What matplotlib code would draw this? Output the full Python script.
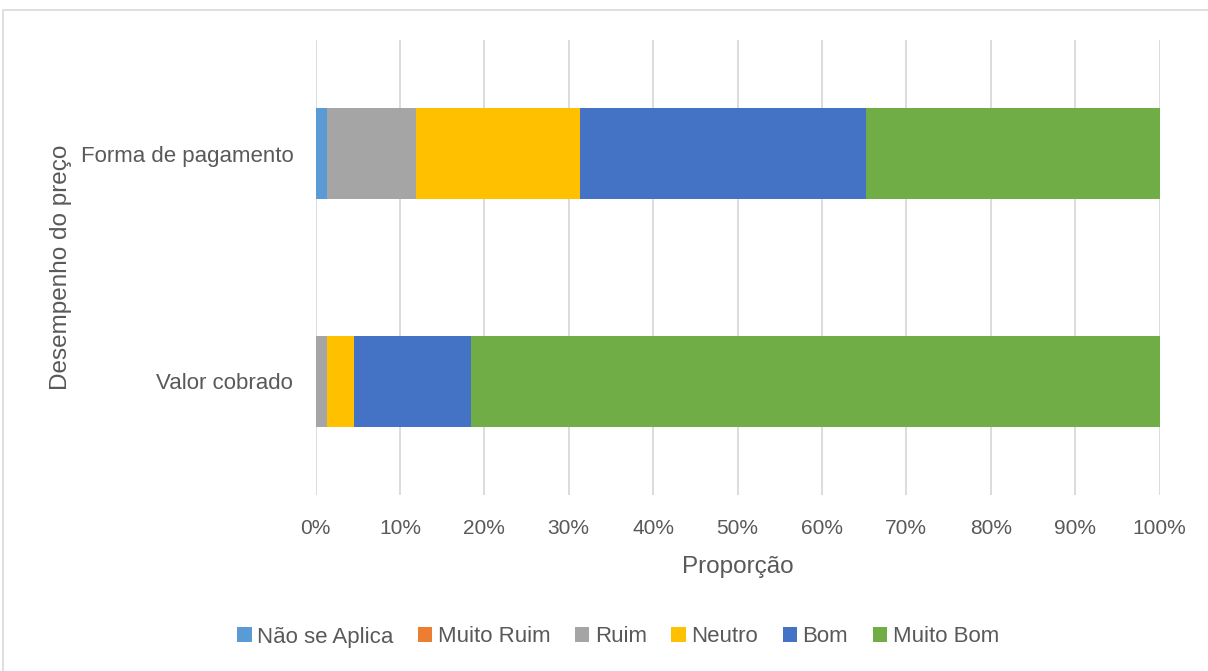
import matplotlib.pyplot as plt
from matplotlib.patches import Rectangle
import numpy as np

plt.rcParams['font.family'] = ['Liberation Sans', 'DejaVu Sans']

categories = ['Valor cobrado', 'Forma de pagamento']
series = ['Não se Aplica', 'Muito Ruim', 'Ruim', 'Neutro', 'Bom', 'Muito Bom']
# proportion (%) per category, in the order of `categories`
nao_se_aplica = [0.0, 1.35]
muito_ruim = [0.0, 0.0]
ruim = [1.35, 10.55]
neutro = [3.2, 19.4]
bom = [13.85, 33.9]
muito_bom = [81.6, 34.8]
values = [nao_se_aplica, muito_ruim, ruim, neutro, bom, muito_bom]
colors = ['#5B9BD5', '#ED7D31', '#A5A5A5', '#FFC000', '#4472C4', '#70AD47']

W, H = 1208, 671
fig = plt.figure(figsize=(W / 100, H / 100), dpi=100)
ax = fig.add_axes([315.5 / W, 1 - 495 / H, 844 / W, 455 / H])

txt = '#595959'
y = np.arange(len(categories))
left = np.zeros(len(categories))
for name, vals, c in zip(series, values, colors):
    vals = np.array(vals) / 100
    ax.barh(y, vals, left=left, height=0.4, color=c, label=name, zorder=3)
    left += vals

ax.set_xlim(0, 1)
ax.set_ylim(-0.5, 1.5)
ax.set_xticks(np.arange(0, 1.01, 0.1))
ax.set_xticklabels([f'{int(round(v * 100))}%' for v in np.arange(0, 1.01, 0.1)])
ax.set_yticks(y)
ax.set_yticklabels(categories)
ax.tick_params(axis='both', length=0, colors=txt)
ax.tick_params(axis='x', labelsize=15, pad=17)
ax.tick_params(axis='y', labelsize=16, pad=16)
ax.grid(axis='x', color='#D9D9D9', linewidth=1.3, zorder=0)
for s in ax.spines.values():
    s.set_visible(False)

ax.set_xlabel('Proporção', fontsize=17.5, color=txt, labelpad=13)
ax.set_ylabel('Desempenho do preço', fontsize=17.5, color=txt, labelpad=6)

fig.legend(loc='center', bbox_to_anchor=(618 / W, 1 - 637 / H), ncol=6,
           frameon=False, fontsize=16, labelcolor=txt, handlelength=0.65,
           handleheight=0.65, handletextpad=0.25, columnspacing=1.1)

# outer chart border
fig.patches.append(Rectangle((3 / W, -0.05), 1.1, 1 - 10 / H + 0.05,
                             transform=fig.transFigure, fill=False,
                             edgecolor='#D9D9D9', linewidth=1.2))

fig.savefig('out.png', dpi=100)
